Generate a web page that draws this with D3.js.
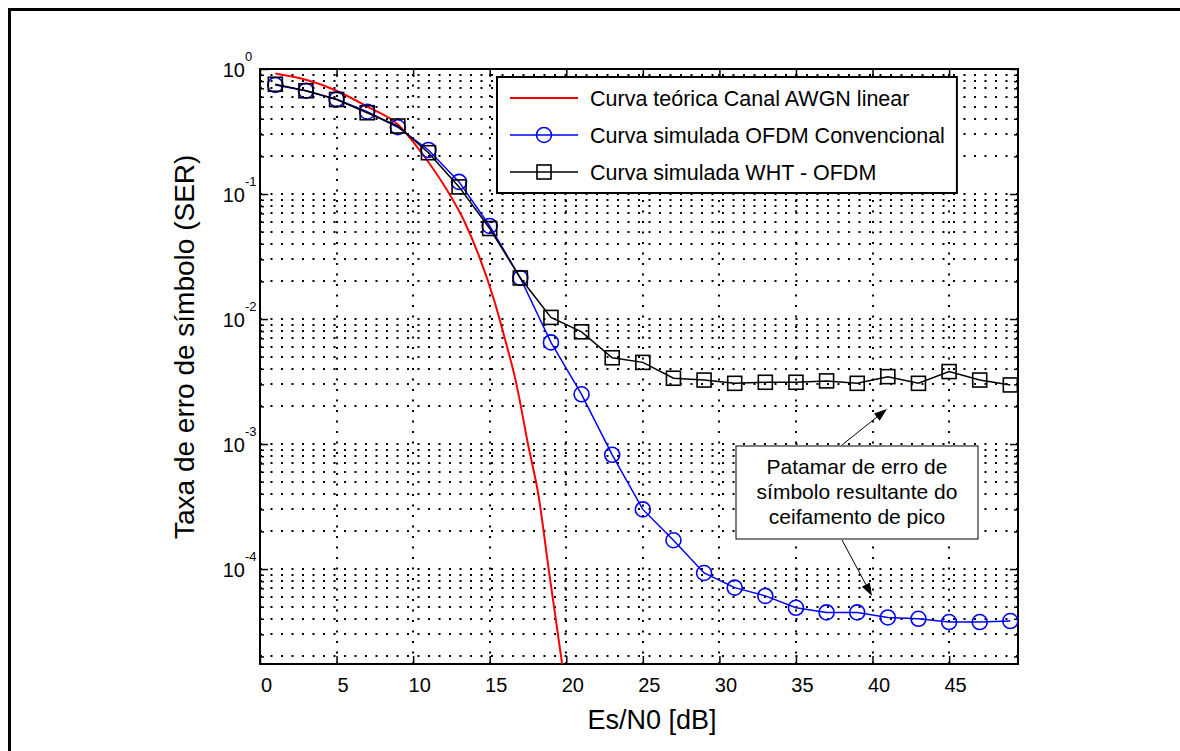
<!DOCTYPE html>
<html>
<head>
<meta charset="utf-8">
<script src="https://cdn.jsdelivr.net/npm/d3@7"></script>
<style>
  body { margin: 0; background: #fff; overflow: hidden; }
  text { font-family: "Liberation Sans", Arial, sans-serif; fill: #000; }
</style>
</head>
<body>
<svg id="chart" width="1180" height="751"></svg>
<script>
/** Simulated points, Es/N0 in dB */
var esn0 = [1, 3, 5, 7, 9, 11, 13, 15, 17, 19, 21, 23, 25, 27, 29, 31, 33, 35, 37, 39, 41, 43, 45, 47, 49];

/** SER of conventional OFDM (blue circles) */
var serOfdm = [0.745, 0.67, 0.572, 0.455, 0.342, 0.225, 0.125, 0.0555, 0.0213, 6.5e-3, 2.5e-3, 8.2e-4, 3.0e-4,
    1.7e-4, 9.3e-5, 7.1e-5, 6.1e-5, 4.9e-5, 4.5e-5, 4.5e-5, 4.1e-5, 4.0e-5, 3.77e-5, 3.77e-5, 3.84e-5];

/** SER of WHT - OFDM (black squares) */
var serWht = [0.755, 0.67, 0.57, 0.447, 0.35, 0.214, 0.114, 0.053, 0.0213, 0.0103, 7.9e-3, 4.9e-3, 4.5e-3,
    3.36e-3, 3.25e-3, 3.06e-3, 3.12e-3, 3.12e-3, 3.2e-3, 3.06e-3, 3.46e-3, 3.06e-3, 3.8e-3, 3.25e-3, 2.97e-3];

/** Theoretical AWGN curve (red) */
var theoryX = [1, 3, 5, 7, 9, 10.6, 12.2, 13.3, 14.3, 15.3, 16, 16.7, 17.5, 18.2, 18.85, 19.73];
var theorySer = [0.92, 0.82, 0.67, 0.50, 0.36, 0.21, 0.108, 0.062, 0.032, 0.014, 0.0069, 0.0032, 0.001,
    3.8e-4, 1.0e-4, 1.74e-5];

/** Tick labels */
var xTicks = [0, 5, 10, 15, 20, 25, 30, 35, 40, 45];
var yDecades = [1, 1e-1, 1e-2, 1e-3, 1e-4];
var yExponents = ["0", "-1", "-2", "-3", "-4"];

var legendLabels = ["Curva teórica Canal AWGN linear", "Curva simulada OFDM Convencional", "Curva simulada WHT - OFDM"];
var noteLines = ["Patamar de erro de", "símbolo resultante do", "ceifamento de pico"];
var xLabel = "Es/N0 [dB]";
var yLabel = "Taxa de erro de símbolo (SER)";

/** Plot box */
var boxL = 260, boxR = 1018, boxT = 69, boxB = 664;

var svg = d3.select("#chart");

svg.append("rect").attr("width", 1180).attr("height", 751).attr("fill", "#fff");

// outer frame (only top and left edge visible)
svg.append("path")
    .attr("d", "M9.5,751V9.5H1180")
    .attr("fill", "none").attr("stroke", "#000").attr("stroke-width", 3);

var x = d3.scaleLinear().domain([0, 49.5]).range([boxL, boxR]);
var y = d3.scaleLog().domain([1.74e-5, 1]).range([boxB, boxT]);

// minor values for log axis
var minorVals = [];
[1e-5, 1e-4, 1e-3, 1e-2, 1e-1].forEach(function (d) {
    for (var m = 2; m <= 9; m++) {
        var v = m * d;
        if (v > y.domain()[0] && v < 1) minorVals.push(v);
    }
});

// grid
var grid = svg.append("g")
    .attr("stroke", "#000").attr("stroke-width", 2).attr("stroke-dasharray", "2,8.5");

grid.selectAll("line.gy")
    .data(yDecades.concat(minorVals).filter(function (v) { return v < 1; }))
    .enter().append("line")
    .attr("class", "gy")
    .attr("x1", boxL).attr("x2", boxR)
    .attr("y1", function (d) { return Math.round(y(d)); })
    .attr("y2", function (d) { return Math.round(y(d)); });

grid.selectAll("line.gx")
    .data(xTicks.filter(function (v) { return v > 0; }))
    .enter().append("line")
    .attr("class", "gx")
    .attr("y1", boxB).attr("y2", boxT)
    .attr("x1", function (d) { return Math.round(x(d)); })
    .attr("x2", function (d) { return Math.round(x(d)); });

// axes (ticks pointing inwards)
var axisBottom = d3.axisBottom(x).tickValues(xTicks).tickSizeInner(-8).tickSizeOuter(0).tickPadding(14);
var gx = svg.append("g").attr("transform", "translate(0," + boxB + ")").call(axisBottom);
gx.select(".domain").remove();
gx.selectAll("line").attr("stroke-width", 1.5);
gx.selectAll("text").attr("font-size", 20).attr("dy", null).attr("y", 28).attr("x", 6)
    .attr("font-family", "Liberation Sans, Arial, sans-serif");

var gxTop = svg.append("g").attr("transform", "translate(0," + boxT + ")")
    .call(d3.axisTop(x).tickValues(xTicks).tickSizeInner(-8).tickSizeOuter(0).tickFormat(""));
gxTop.select(".domain").remove();
gxTop.selectAll("line").attr("stroke-width", 1.5);

[[d3.axisLeft, boxL], [d3.axisRight, boxR]].forEach(function (a) {
    var gMaj = svg.append("g").attr("transform", "translate(" + a[1] + ",0)")
        .call(a[0](y).tickValues(yDecades).tickSizeInner(-8).tickSizeOuter(0).tickFormat(""));
    gMaj.select(".domain").remove();
    gMaj.selectAll("line").attr("stroke-width", 1.5);
    var gMin = svg.append("g").attr("transform", "translate(" + a[1] + ",0)")
        .call(a[0](y).tickValues(minorVals).tickSizeInner(-4).tickSizeOuter(0).tickFormat(""));
    gMin.select(".domain").remove();
    gMin.selectAll("line").attr("stroke-width", 1.5);
});

// y tick labels 10^n
var yl = svg.append("g").selectAll("g").data(yDecades).enter().append("g");
yl.append("text")
    .attr("x", 245)
    .attr("y", function (d) { return y(d) + 8; })
    .attr("text-anchor", "end")
    .attr("font-size", 20)
    .text("10");
yl.append("text")
    .attr("x", 245)
    .attr("y", function (d) { return y(d) - 8; })
    .attr("font-size", 13)
    .text(function (d, i) { return yExponents[i]; });

// box
svg.append("rect")
    .attr("x", boxL).attr("y", boxT)
    .attr("width", boxR - boxL).attr("height", boxB - boxT)
    .attr("fill", "none").attr("stroke", "#000").attr("stroke-width", 2);

// curves
svg.append("clipPath").attr("id", "clip").append("rect")
    .attr("x", boxL).attr("y", boxT).attr("width", boxR - boxL).attr("height", boxB - boxT);
var plot = svg.append("g").attr("clip-path", "url(#clip)");

var theoryLine = d3.line()
    .x(function (d, i) { return x(theoryX[i]); })
    .y(function (d) { return y(d); })
    .curve(d3.curveMonotoneX);

plot.append("path")
    .attr("d", theoryLine(theorySer))
    .attr("fill", "none").attr("stroke", "#ff0000").attr("stroke-width", 2);

var simLine = d3.line()
    .x(function (d, i) { return x(esn0[i]); })
    .y(function (d) { return y(d); });

plot.append("path")
    .attr("d", simLine(serOfdm))
    .attr("fill", "none").attr("stroke", "#0000ff").attr("stroke-width", 1.5);

plot.selectAll("circle.ofdm").data(serOfdm).enter().append("circle")
    .attr("class", "ofdm")
    .attr("cx", function (d, i) { return x(esn0[i]); })
    .attr("cy", function (d) { return y(d); })
    .attr("r", 7.5)
    .attr("fill", "none").attr("stroke", "#0000ff").attr("stroke-width", 1.6);

plot.append("path")
    .attr("d", simLine(serWht))
    .attr("fill", "none").attr("stroke", "#000").attr("stroke-width", 1.5);

plot.selectAll("rect.wht").data(serWht).enter().append("rect")
    .attr("class", "wht")
    .attr("x", function (d, i) { return x(esn0[i]) - 7; })
    .attr("y", function (d) { return y(d) - 7; })
    .attr("width", 14).attr("height", 14)
    .attr("fill", "none").attr("stroke", "#000").attr("stroke-width", 1.6);

// legend
var legend = svg.append("g");
var legBox = legend.append("rect")
    .attr("x", 497).attr("y", 77).attr("height", 116)
    .attr("fill", "#fff").attr("stroke", "#000").attr("stroke-width", 2);
var rowY = [98, 135, 172];
var colors = ["#ff0000", "#0000ff", "#000"];
var maxLen = 0;
legendLabels.forEach(function (lab, i) {
    legend.append("line")
        .attr("x1", 510).attr("x2", 578).attr("y1", rowY[i]).attr("y2", rowY[i])
        .attr("stroke", colors[i]).attr("stroke-width", i === 0 ? 2 : 1.5);
    if (i === 1) {
        legend.append("circle").attr("cx", 544).attr("cy", rowY[i]).attr("r", 7.5)
            .attr("fill", "none").attr("stroke", colors[i]).attr("stroke-width", 1.6);
    }
    if (i === 2) {
        legend.append("rect").attr("x", 537).attr("y", rowY[i] - 7).attr("width", 14).attr("height", 14)
            .attr("fill", "none").attr("stroke", colors[i]).attr("stroke-width", 1.6);
    }
    var t = legend.append("text")
        .attr("x", 590).attr("y", rowY[i] + 7.5)
        .attr("font-size", 21.5)
        .text(lab);
    maxLen = Math.max(maxLen, t.node().getComputedTextLength());
});
legBox.attr("width", 590 + maxLen + 12 - 497);

// annotation
var note = svg.append("g");
note.append("rect")
    .attr("x", 736).attr("y", 446).attr("width", 242).attr("height", 93)
    .attr("fill", "#fff").attr("stroke", "#000").attr("stroke-width", 1);
note.selectAll("text").data(noteLines).enter().append("text")
    .attr("x", 857)
    .attr("y", function (d, i) { return 474 + i * 25; })
    .attr("text-anchor", "middle")
    .attr("font-size", 21)
    .text(function (d) { return d; });

function arrow(x1, y1, x2, y2) {
    var a = Math.atan2(y2 - y1, x2 - x1), len = 13, hw = 4.5;
    var bx = x2 - len * Math.cos(a), by = y2 - len * Math.sin(a);
    note.append("line").attr("x1", x1).attr("y1", y1).attr("x2", bx).attr("y2", by)
        .attr("stroke", "#000").attr("stroke-width", 1);
    note.append("path")
        .attr("d", "M" + x2 + "," + y2 +
            "L" + (bx + hw * Math.sin(a)) + "," + (by - hw * Math.cos(a)) +
            "L" + (bx - hw * Math.sin(a)) + "," + (by + hw * Math.cos(a)) + "Z")
        .attr("fill", "#000");
}
arrow(842, 445, 887, 409);
arrow(842, 540, 872, 596);

// axis labels
svg.append("text")
    .attr("x", 652).attr("y", 729)
    .attr("text-anchor", "middle")
    .attr("font-size", 27)
    .text(xLabel);

svg.append("text")
    .attr("transform", "translate(194,539) rotate(-90)")
    .attr("text-anchor", "start")
    .attr("font-size", 28)
    .text(yLabel);
</script>
</body>
</html>
